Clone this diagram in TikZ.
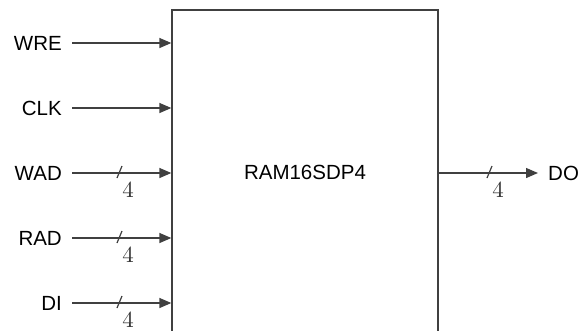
\documentclass[tikz,border=0pt]{standalone}
\usepackage{fontspec}
\setmainfont{Liberation Sans}
\newfontfamily\lmrfont{lmroman10-regular.otf}
\usetikzlibrary{arrows.meta}
\begin{document}
\begin{tikzpicture}[x=1pt,y=-1pt,
  lbl/.style={anchor=east,inner sep=0pt,font=\fontsize{20.5}{24}\selectfont},
  sig/.style={draw=black!75,line width=1.3pt,-{Triangle[length=12pt,width=10pt]}},
  slash/.style={draw=black!75,line width=1.2pt},
  bw/.style={inner sep=0pt,font=\lmrfont\fontsize{23}{26}\selectfont,text=black!80},
  ram/.style={draw=black!75,line width=1.3pt,fill=white,minimum width=266pt,minimum height=325pt,inner sep=0pt,font=\fontsize{20.5}{24}\selectfont}]
\useasboundingbox (0,0) rectangle (579,330);
\node[ram] (ram) at (305,172.5) {RAM16SDP4};
\node[lbl] (wre) at (62,43) {WRE};
\node[lbl] (clk) at (62,108) {CLK};
\node[lbl] (wad) at (62,173) {WAD};
\node[lbl] (rad) at (62,238) {RAD};
\node[lbl] (di) at (62,303) {DI};
\foreach \n in {wre,clk,wad,rad,di}{
  \draw[sig] ([xshift=10pt]\n.east) -- (\n -| ram.west);
}
\foreach \n/\y in {wad/173,rad/238,di/303}{
  \draw[slash] (117,\y+5) -- (122,\y-7);
  \node[bw] (bw\n) at (128,\y+17) {4};
}
\coordinate (doend) at (538,173);
\node[lbl,anchor=west] (do) at (548,173) {DO};
\draw[sig] (ram.east |- doend) -- (doend);
\draw[slash] (487,178) -- (492,166);
\node[bw] (bwdo) at (498,190) {4};
\end{tikzpicture}
\end{document}
